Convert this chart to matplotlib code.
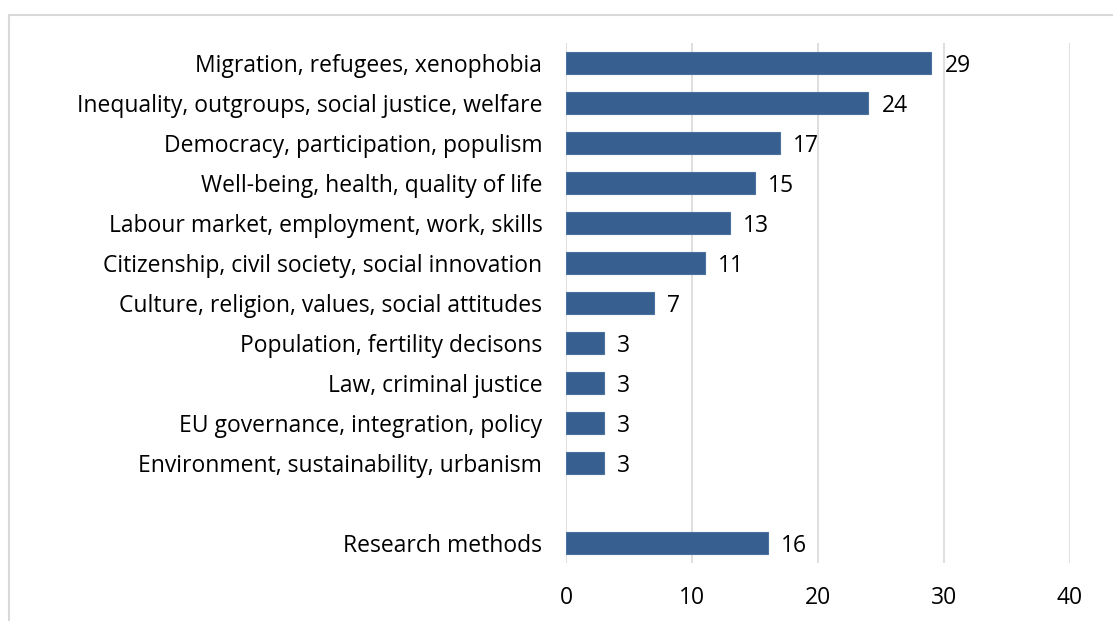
import matplotlib.pyplot as plt
from matplotlib.patches import Rectangle

plt.rcParams['font.family'] = ['Open Sans', 'DejaVu Sans']

topics = [
    "Migration, refugees, xenophobia",
    "Inequality, outgroups, social justice, welfare",
    "Democracy, participation, populism",
    "Well-being, health, quality of life",
    "Labour market, employment, work, skills",
    "Citizenship, civil society, social innovation",
    "Culture, religion, values, social attitudes",
    "Population, fertility decisons",
    "Law, criminal justice",
    "EU governance, integration, policy",
    "Environment, sustainability, urbanism",
    "Research methods",
]
counts = [29, 24, 17, 15, 13, 11, 7, 3, 3, 3, 3, 16]

# one empty slot before the last row
slots = list(range(len(topics) - 1)) + [len(topics)]

fig = plt.figure(figsize=(11.13, 6.21), dpi=100)
ax = fig.add_axes([0.5085, 0.0934, 0.4529, 0.8374])

bars = ax.barh(slots, counts, height=0.55, color="#375f8f",
               edgecolor="#4a72a0", linewidth=0.8, zorder=3)
for b, v in zip(bars, counts):
    ax.annotate(str(v), (b.get_width(), b.get_y() + b.get_height() / 2),
                xytext=(9.5, -2), textcoords="offset points",
                ha="left", va="center", fontsize=16.5, color="black")

ax.set_xlim(0, 40)
ax.set_ylim(len(topics) + 0.5, -0.5)
ax.set_xticks([0, 10, 20, 30, 40])
ax.set_yticks(slots)
ax.set_yticklabels(topics)
ax.tick_params(axis="both", length=0, labelsize=16.5)
ax.tick_params(axis="y", pad=17)
ax.tick_params(axis="x", pad=16.5)
ax.xaxis.grid(True, color="#d9d9d9", linewidth=1.2, zorder=0)
for s in ax.spines.values():
    s.set_visible(False)

# light frame around the chart area
fig.patches.append(Rectangle((9 / 1113, -0.01), 1.0, 1 - 15 / 621 + 0.01,
                             transform=fig.transFigure, fill=False,
                             edgecolor="#d9d9d9", linewidth=1.5))

fig.savefig("out.png", dpi=100)
